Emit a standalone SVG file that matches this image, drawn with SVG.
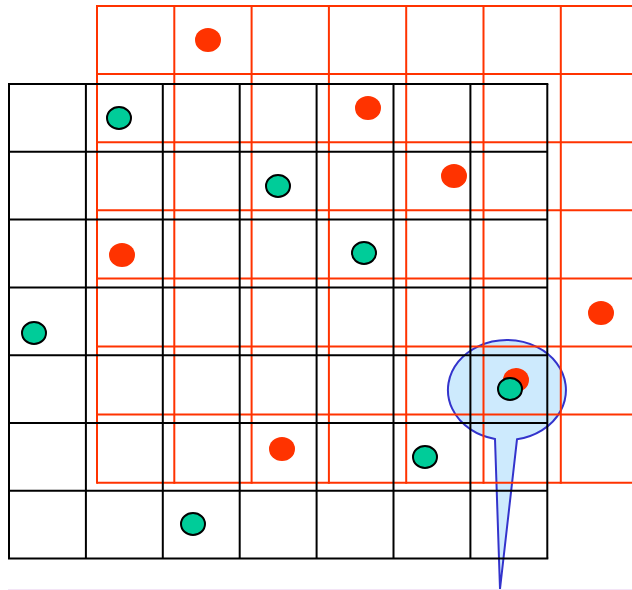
<svg xmlns="http://www.w3.org/2000/svg" width="632" height="590" viewBox="0 0 632 590">
<defs>
<style>
.red line{stroke:#ff3300;stroke-width:2}
.blk line{stroke:#000;stroke-width:2}
.rd{fill:#ff3300}
.gr{fill:#00cc99;stroke:#000;stroke-width:2}
</style>
</defs>
<rect width="632" height="590" fill="#fff"/>
<g id="callout">
<path d="M495,439 A59,50 0 1 1 517,439.3 L500,589 Z" fill="#cdeafd" stroke="#3333cc" stroke-width="2" stroke-linejoin="miter"/>
</g>
<line x1="8" y1="589.5" x2="632" y2="589.5" stroke="#f3e4f6" stroke-width="1"/>
<g id="red-grid" class="red">
<line x1="97" y1="6" x2="640" y2="6"/>
<line x1="97" y1="74.1" x2="640" y2="74.1"/>
<line x1="97" y1="142.2" x2="640" y2="142.2"/>
<line x1="97" y1="210.3" x2="640" y2="210.3"/>
<line x1="97" y1="278.4" x2="640" y2="278.4"/>
<line x1="97" y1="346.5" x2="640" y2="346.5"/>
<line x1="97" y1="414.6" x2="640" y2="414.6"/>
<line x1="97" y1="482.7" x2="640" y2="482.7"/>
<line x1="97" y1="5" x2="97" y2="483.7"/>
<line x1="174.3" y1="5" x2="174.3" y2="483.7"/>
<line x1="251.6" y1="5" x2="251.6" y2="483.7"/>
<line x1="328.9" y1="5" x2="328.9" y2="483.7"/>
<line x1="406.2" y1="5" x2="406.2" y2="483.7"/>
<line x1="483.5" y1="5" x2="483.5" y2="483.7"/>
<line x1="560.8" y1="5" x2="560.8" y2="483.7"/>
</g>
<g id="black-grid" class="blk">
<line x1="8" y1="84" x2="548.3" y2="84"/>
<line x1="9" y1="151.8" x2="547.3" y2="151.8"/>
<line x1="9" y1="219.6" x2="547.3" y2="219.6"/>
<line x1="9" y1="287.4" x2="547.3" y2="287.4"/>
<line x1="9" y1="355.2" x2="547.3" y2="355.2"/>
<line x1="9" y1="423" x2="547.3" y2="423"/>
<line x1="9" y1="490.8" x2="547.3" y2="490.8"/>
<line x1="8" y1="558.6" x2="548.3" y2="558.6"/>
<line x1="9" y1="84" x2="9" y2="558.6"/>
<line x1="85.9" y1="84" x2="85.9" y2="558.6"/>
<line x1="162.8" y1="84" x2="162.8" y2="558.6"/>
<line x1="239.7" y1="84" x2="239.7" y2="558.6"/>
<line x1="316.6" y1="84" x2="316.6" y2="558.6"/>
<line x1="393.5" y1="84" x2="393.5" y2="558.6"/>
<line x1="470.4" y1="84" x2="470.4" y2="558.6"/>
<line x1="547.3" y1="84" x2="547.3" y2="558.6"/>
</g>
<g id="red-dots">
<ellipse class="rd" cx="208" cy="40" rx="13" ry="12"/>
<ellipse class="rd" cx="368" cy="108" rx="13" ry="12"/>
<ellipse class="rd" cx="454" cy="176" rx="13" ry="12"/>
<ellipse class="rd" cx="122" cy="255" rx="13" ry="12"/>
<ellipse class="rd" cx="601" cy="313" rx="13" ry="12"/>
<ellipse class="rd" cx="516" cy="380" rx="13" ry="12"/>
<ellipse class="rd" cx="282" cy="449" rx="13" ry="12"/>
</g>
<g id="green-dots">
<ellipse class="gr" cx="119" cy="118" rx="12" ry="11"/>
<ellipse class="gr" cx="278" cy="186" rx="12" ry="11"/>
<ellipse class="gr" cx="364" cy="253" rx="12" ry="11"/>
<ellipse class="gr" cx="34" cy="333" rx="12" ry="11"/>
<ellipse class="gr" cx="510" cy="389" rx="12" ry="11"/>
<ellipse class="gr" cx="425" cy="457" rx="12" ry="11"/>
<ellipse class="gr" cx="193" cy="524" rx="12" ry="11"/>
</g>
</svg>
